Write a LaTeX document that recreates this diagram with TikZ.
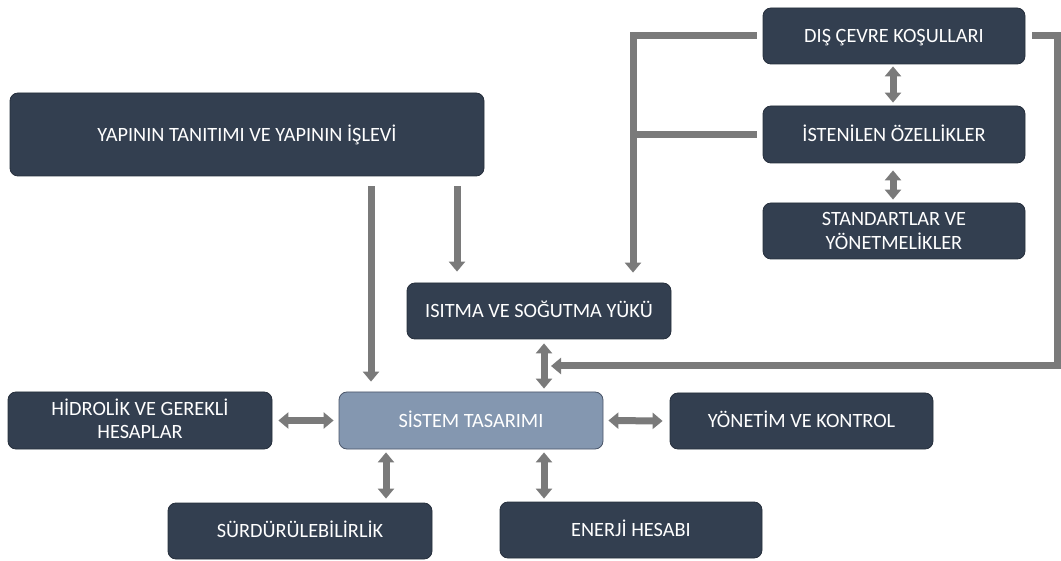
\documentclass[tikz,border=0pt]{standalone}
\usepackage{fontspec}
\setmainfont{Carlito}
\usetikzlibrary{arrows.meta}
\definecolor{boxfill}{HTML}{333F50}
\definecolor{boxline}{HTML}{262F3C}
\definecolor{midfill}{HTML}{8497B0}
\definecolor{midline}{HTML}{4A5568}
\definecolor{arrgray}{HTML}{7A7A7A}
\newcommand{\twolines}[2]{\begin{tabular}[b]{@{}c@{}}#1\\#2\end{tabular}}
\tikzset{
  darkbox/.style={draw=boxline, line width=0.8pt, fill=boxfill, rounded corners=8pt,
    text=white, inner sep=0pt, text height=13.1pt, text depth=0pt,
    font=\fontsize{20.3}{23.5}\selectfont},
  twoline/.style={text height=36.6pt, text depth=0pt},
  midbox/.style={darkbox, fill=midfill, draw=midline},
  tip/.tip={Triangle[width=16pt,length=10pt]},
  arr/.style={draw=arrgray, line width=7pt, -tip},
  darr/.style={draw=arrgray, line width=7pt, tip-tip},
  bar/.style={draw=arrgray, line width=7pt},
}
\begin{document}
\begin{tikzpicture}[x=1pt,y=-1pt]
\useasboundingbox (0,0) rectangle (1061,561);
% boxes
\node[darkbox, minimum width=474pt, minimum height=83pt] (yap) at (247,134.5) {YAPININ TANITIMI VE YAPININ İŞLEVİ};
\node[darkbox, minimum width=262pt, minimum height=56pt] (dis) at (894,36) {DIŞ ÇEVRE KOŞULLARI};
\node[darkbox, minimum width=262pt, minimum height=57pt] (ist) at (894,134.5) {İSTENİLEN ÖZELLİKLER};
\node[darkbox, twoline, minimum width=262pt, minimum height=56pt] (std) at (894,231) {\twolines{STANDARTLAR VE}{YÖNETMELİKLER}};
\node[darkbox, minimum width=264pt, minimum height=56pt] (isi) at (539,311) {ISITMA VE SOĞUTMA YÜKÜ};
\node[midbox, minimum width=264pt, minimum height=57pt] (sis) at (471,420.5) {SİSTEM TASARIMI};
\node[darkbox, twoline, minimum width=264pt, minimum height=57pt] (hid) at (140,420.5) {\twolines{HİDROLİK VE GEREKLİ}{HESAPLAR}};
\node[darkbox, minimum width=263pt, minimum height=56pt] (yon) at (801.5,421) {YÖNETİM VE KONTROL};
\node[darkbox, minimum width=264pt, minimum height=56pt] (sur) at (300,531) {SÜRDÜRÜLEBİLİRLİK};
\node[darkbox, minimum width=262pt, minimum height=56pt] (ene) at (631,530) {ENERJİ HESABI};
% helper coordinates
\coordinate (lx) at (633,0);
\coordinate (rx) at (1057,0);
\coordinate (ry) at (0,366);
% arrows from yap (yshift is in page direction, positive = up)
\draw[arr] ([yshift=-10pt]yap.south -| 371,0) -- ([yshift=10pt]sis.north -| 371,0);
\draw[arr] ([yshift=-10pt]yap.south -| 457,0) -- ([yshift=11pt]isi.north -| 457,0);
% right column
\draw[darr] ([yshift=-2pt]dis.south -| 893,0) -- ([yshift=3pt]ist.north -| 893,0);
\draw[darr] ([yshift=-7pt]ist.south -| 893,0) -- ([yshift=3pt]std.north -| 893,0);
% left bracket
\draw[bar] ([xshift=-6pt]ist.west) -- (ist.west -| lx);
\draw[arr] ([xshift=-6pt]dis.west) -- (dis.west -| lx) -- ([yshift=10pt]isi.north -| lx);
% right bracket
\draw[arr] ([xshift=7pt]dis.east) -- (dis.east -| rx) -- (rx |- ry) -- (ry -| 551,0);
% around sis
\draw[darr] ([yshift=-4pt]isi.south -| 544,0) -- ([yshift=3pt]sis.north -| 544,0);
\draw[darr] ([xshift=6pt]hid.east) -- ([xshift=-5pt]sis.west);
\draw[darr] ([xshift=5pt]sis.east) -- ([xshift=-7pt]yon.west);
\draw[darr] ([yshift=-3pt]sis.south -| 386,0) -- ([yshift=4pt]sur.north -| 386,0);
\draw[darr] ([yshift=-3pt]sis.south -| 544,0) -- ([yshift=3pt]ene.north -| 544,0);
\end{tikzpicture}
\end{document}
